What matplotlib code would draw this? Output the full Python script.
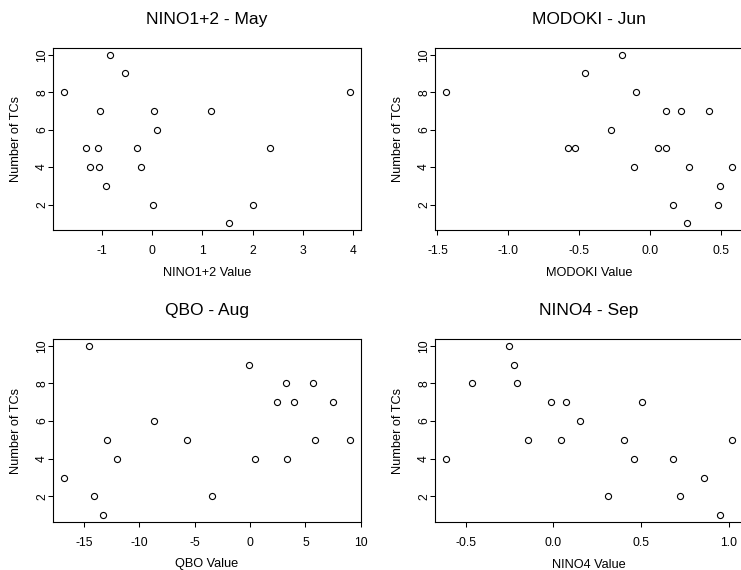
import matplotlib
matplotlib.use("Agg")
import matplotlib.pyplot as plt
import numpy as np

plt.rcParams['font.family'] = ['Liberation Sans', 'DejaVu Sans']

# ---- data ----
nino12_x = [-1.75, -0.85, -0.54, -1.05, 0.04, 0.10, 1.17, 3.93, -1.31, -1.08,
            -0.30, 2.34, -1.25, -1.07, -0.22, -0.92, 0.02, 2.01, 1.53]
nino12_y = [8, 10, 9, 7, 7, 6, 7, 8, 5, 5, 5, 5, 4, 4, 4, 3, 2, 2, 1]

modoki_x = [-1.437, -0.20, -0.46, -0.10, 0.109, 0.215, 0.41, -0.28, -0.58, -0.53,
            0.052, 0.109, -0.116, 0.27, 0.572, 0.49, 0.158, 0.475, 0.258]
modoki_y = [8, 10, 9, 8, 7, 7, 7, 6, 5, 5, 5, 5, 4, 4, 4, 3, 2, 2, 1]

qbo_x = [-16.75, -14.49, -14.04, -13.31, -12.89, -11.99, -8.64, -5.66, -3.46, -0.06,
         0.42, 2.44, 3.28, 3.37, 4.0, 5.69, 5.87, 7.47, 8.98]
qbo_y = [3, 10, 2, 1, 5, 4, 6, 5, 2, 9, 4, 7, 8, 4, 7, 8, 5, 7, 5]

nino4_x = [-0.61, -0.462, -0.252, -0.224, -0.206, -0.143, -0.013, 0.073, 0.044, 0.151,
           0.311, 0.401, 0.46, 0.503, 0.68, 0.72, 0.856, 0.948, 1.015]
nino4_y = [4, 8, 10, 9, 8, 5, 7, 7, 5, 6, 2, 5, 4, 7, 4, 2, 3, 1, 5]

panels = [
    ("NINO1+2 - May", "NINO1+2 Value", nino12_x, nino12_y, [-1, 0, 1, 2, 3, 4], ["-1", "0", "1", "2", "3", "4"]),
    ("MODOKI - Jun", "MODOKI Value", modoki_x, modoki_y, [-1.5, -1.0, -0.5, 0.0, 0.5], ["-1.5", "-1.0", "-0.5", "0.0", "0.5"]),
    ("QBO - Aug", "QBO Value", qbo_x, qbo_y, [-15, -10, -5, 0, 5, 10], ["-15", "-10", "-5", "0", "5", "10"]),
    ("NINO4 - Sep", "NINO4 Value", nino4_x, nino4_y, [-0.5, 0.0, 0.5, 1.0], ["-0.5", "0.0", "0.5", "1.0"]),
]
yticks = [2, 4, 6, 8, 10]

W, H = 741, 570
fig = plt.figure(figsize=(W / 100, H / 100), dpi=100)

# axes boxes in pixel coordinates (left, top, right, bottom)
boxes = [(53, 48, 361, 230), (435, 48, 743, 230), (53, 339, 361, 522), (435, 339, 743, 522)]

for (title, xlabel, xs, ys, xt, xtl), (l, t, r, b) in zip(panels, boxes):
    ax = fig.add_axes([l / W, (H - b) / H, (r - l) / W, (b - t) / H])
    xs = np.array(xs); ys = np.array(ys)
    ax.plot(xs, ys, linestyle='none', marker='o', markersize=4.4,
            markerfacecolor='white', markeredgecolor='black', markeredgewidth=0.8)
    xr = xs.max() - xs.min()
    ax.set_xlim(xs.min() - 0.04 * xr, xs.max() + 0.04 * xr)
    yr = 10 - 1
    ax.set_ylim(1 - 0.04 * yr, 10 + 0.04 * yr)
    ax.set_xticks(xt)
    ax.set_xticklabels(xtl)
    ax.set_yticks(yticks)
    ax.set_yticklabels([str(v) for v in yticks], rotation=90, va='center')
    ax.tick_params(axis='both', direction='out', length=3.5, width=0.75, labelsize=8.7, colors='black')
    ax.tick_params(axis='x', pad=7)
    ax.tick_params(axis='y', pad=0)
    for s in ax.spines.values():
        s.set_linewidth(0.8)
        s.set_color('black')
    ax.set_title(title, fontsize=12.5, pad=17.5)
    ax.set_xlabel(xlabel, fontsize=9.2)
    ax.set_ylabel("Number of TCs", fontsize=9.2)
    ax.xaxis.set_label_coords(0.5, -36.5 / (b - t))
    ax.yaxis.set_label_coords(-31.0 / (r - l), 0.5)

fig.savefig("out.png", dpi=100)
